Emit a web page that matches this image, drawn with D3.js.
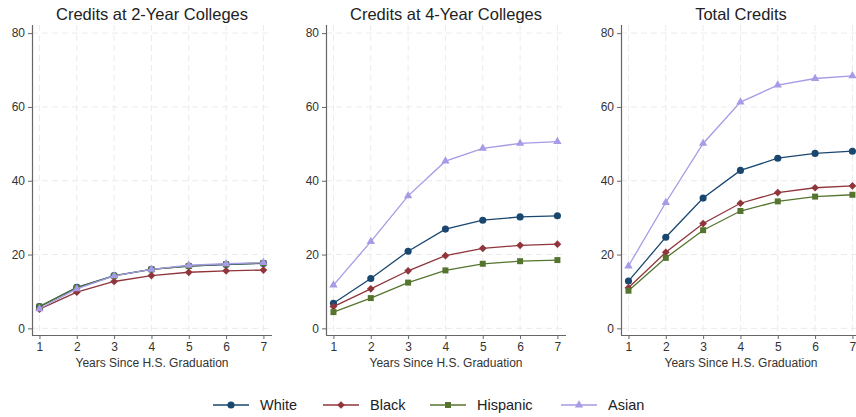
<!DOCTYPE html>
<html><head><meta charset="utf-8">
<script src="https://cdn.jsdelivr.net/npm/d3@7"></script>
<style>body{margin:0;background:#fff;} text{font-family:"Liberation Sans",Arial,sans-serif;}</style>
</head><body><svg id="c" width="856" height="417"></svg>
<script>
const years = [1,2,3,4,5,6,7];
const yTicks = [0,20,40,60,80];
const panelTitles = ["Credits at 2-Year Colleges","Credits at 4-Year Colleges","Total Credits"];
const groups = ["White","Black","Hispanic","Asian"];
const colors = ["#1a476f","#90353b","#55752f","#a59be6"];
// Credits at 2-Year Colleges
const twoYrWhite    = [5.9,11.1,14.3,16.0,16.9,17.3,17.6];
const twoYrBlack    = [5.2, 9.8,12.7,14.3,15.2,15.6,15.8];
const twoYrHispanic = [5.9,11.0,14.2,16.0,16.9,17.4,17.7];
const twoYrAsian    = [5.3,10.7,14.2,16.0,17.1,17.5,17.8];
// Credits at 4-Year Colleges
const fourYrWhite    = [6.8,13.5,20.9,26.9,29.3,30.2,30.5];
const fourYrBlack    = [5.9,10.7,15.6,19.7,21.7,22.5,22.8];
const fourYrHispanic = [4.4, 8.2,12.4,15.7,17.5,18.2,18.5];
const fourYrAsian    = [11.7,23.5,35.9,45.3,48.8,50.1,50.6];
// Total Credits
const totalWhite    = [12.8,24.7,35.3,42.8,46.1,47.4,48.0];
const totalBlack    = [11.0,20.6,28.4,33.9,36.8,38.1,38.6];
const totalHispanic = [10.2,19.1,26.6,31.8,34.4,35.7,36.2];
const totalAsian    = [16.9,34.1,50.1,61.3,65.9,67.7,68.4];

const panels = [
  [twoYrWhite,twoYrBlack,twoYrHispanic,twoYrAsian],
  [fourYrWhite,fourYrBlack,fourYrHispanic,fourYrAsian],
  [totalWhite,totalBlack,totalHispanic,totalAsian]
];
const svg = d3.select("#c");
const lefts = [32,326,621];
const W = 240, plotTop = 25, plotBottom = 335;
const y = d3.scaleLinear().domain([-1.8,82.2]).range([plotBottom,plotTop]);
const symbols = [d3.symbolCircle, d3.symbolSquare, d3.symbolSquare, d3.symbolTriangle];
const rotations = [0,45,0,0];
const sizes = [40, 30, 36, 30];
const axisCol = "#666", textCol = "#333";

panels.forEach((series,pi)=>{
  const x = d3.scaleLinear().domain([0.8,7.23]).range([lefts[pi], lefts[pi]+W]);
  const g = svg.append("g");
  g.selectAll(".hg").data(yTicks).join("line")
    .attr("x1",lefts[pi]).attr("x2",lefts[pi]+W).attr("y1",d=>y(d)).attr("y2",d=>y(d))
    .attr("stroke","#ebebeb").attr("stroke-width",1).attr("stroke-dasharray","6,4");
  g.selectAll(".vg").data(years).join("line")
    .attr("x1",d=>x(d)).attr("x2",d=>x(d)).attr("y1",plotTop).attr("y2",plotBottom)
    .attr("stroke","#ebebeb").attr("stroke-width",1).attr("stroke-dasharray","6,4");
  const ya = g.append("g").attr("transform",`translate(${lefts[pi]},0)`)
    .call(d3.axisLeft(y).tickValues(yTicks).tickSize(4).tickPadding(3));
  const xa = g.append("g").attr("transform",`translate(0,${plotBottom})`)
    .call(d3.axisBottom(x).tickValues(years).tickSize(4).tickPadding(3).tickFormat(d3.format("d")));
  [ya,xa].forEach(a=>{
    a.select(".domain").attr("stroke",axisCol).attr("stroke-width",1.2);
    a.selectAll(".tick line").attr("stroke",axisCol);
    a.selectAll("text").attr("fill",textCol).style("font-size","12px");
  });
  xa.select(".domain").attr("d",`M${lefts[pi]},0.5H${lefts[pi]+W}`);
  ya.select(".domain").attr("d",`M0.5,${plotTop}V${plotBottom}`);
  g.append("text").attr("x",lefts[pi]+W/2).attr("y",19.5).attr("text-anchor","middle")
    .attr("fill","#222").style("font-size","16.5px").text(panelTitles[pi]);
  g.append("text").attr("x",lefts[pi]+W/2).attr("y",367).attr("text-anchor","middle")
    .attr("fill",textCol).style("font-size","12px").text("Years Since H.S. Graduation");
  const line = d3.line().x((d,i)=>x(years[i])).y(d=>y(d));
  [0,1,2,3].forEach(si=>{
    g.append("path").datum(series[si]).attr("d",line).attr("fill","none")
      .attr("stroke",colors[si]).attr("stroke-width",1.3);
    g.selectAll(null).data(series[si]).join("path")
      .attr("transform",(d,i)=>`translate(${x(years[i])},${y(d)}) rotate(${rotations[si]})`)
      .attr("d",d3.symbol().type(symbols[si]).size(sizes[si]))
      .attr("fill",colors[si]);
  });
});

const legX = [213,323,430,561];
const ly = 405;
groups.forEach((gname,i)=>{
  const lg = svg.append("g");
  lg.append("line").attr("x1",legX[i]).attr("x2",legX[i]+36).attr("y1",ly).attr("y2",ly)
    .attr("stroke",colors[i]).attr("stroke-width",1.5);
  lg.append("path").attr("transform",`translate(${legX[i]+18},${ly}) rotate(${rotations[i]})`)
    .attr("d",d3.symbol().type(symbols[i]).size(sizes[i])).attr("fill",colors[i]);
  lg.append("text").attr("x",legX[i]+47).attr("y",ly+5).attr("fill","#222")
    .style("font-size","14.5px").text(gname);
});
</script></body></html>
